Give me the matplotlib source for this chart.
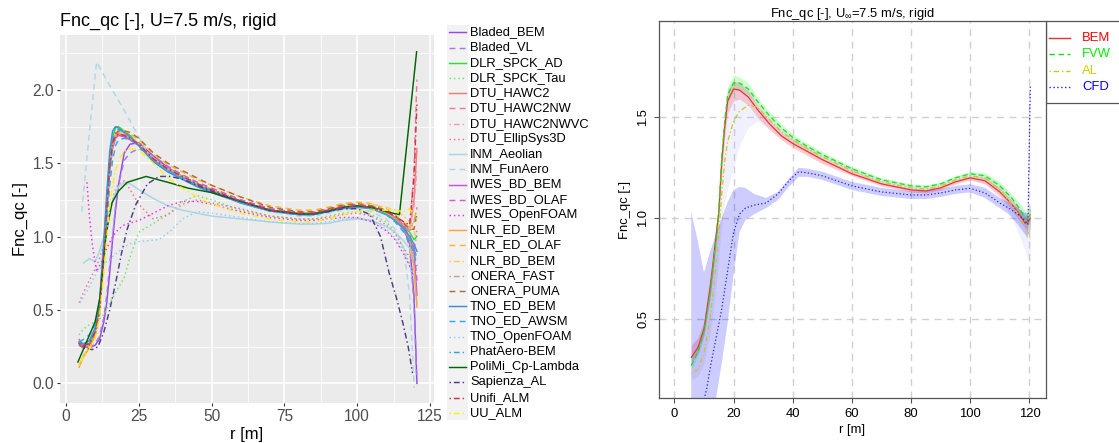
import numpy as np
import matplotlib

matplotlib.use("Agg")
import matplotlib.pyplot as plt
from matplotlib.patches import Rectangle

plt.rcParams["font.family"] = ["Liberation Sans", "DejaVu Sans"]
plt.rcParams["mathtext.fontset"] = "custom"
plt.rcParams["mathtext.rm"] = "Liberation Sans"

NAN = np.nan

# ---------------- left panel: all codes, Fnc_qc vs r ----------------
R_LEFT = [4.5, 6, 8, 10, 11.5, 13, 14, 15, 16, 17,
          18, 20, 22, 25, 30, 35, 40, 45, 50, 60,
          70, 80, 85, 90, 95, 100, 105, 110, 113, 116,
          118, 119.5, 120.5]

BLADED_BEM = [0.27, 0.25, 0.24, 0.26, 0.30, 0.42, 0.55, 0.75, 0.98, 1.18,
              1.35, 1.57, 1.63, 1.64, 1.55, 1.47, 1.41, 1.36, 1.32, 1.24,
              1.18, 1.15, 1.155, 1.175, 1.20, 1.21, 1.19, 1.16, 1.12, 1.05,
              0.95, 0.60, 0.0]
BLADED_VL = [0.26, 0.25, 0.24, 0.27, 0.32, 0.45, 0.60, 0.80, 1.00, 1.20,
             1.35, 1.52, 1.57, 1.60, 1.55, 1.48, 1.42, 1.37, 1.33, 1.25,
             1.19, 1.16, 1.16, 1.18, 1.21, 1.22, 1.20, 1.17, 1.12, 1.05,
             0.93, 0.55, 0.02]
DLR_SPCK_AD = [0.28, 0.26, 0.27, 0.37, 0.55, 0.95, 1.25, 1.52, 1.68, 1.74,
               1.75, 1.72, 1.69, 1.63, 1.52, 1.45, 1.40, 1.35, 1.31, 1.23,
               1.175, 1.15, 1.15, 1.17, 1.20, 1.21, 1.20, 1.16, 1.12, 1.07,
               1.03, 0.98, 1.00]
DLR_SPCK_TAU = [0.33, 0.37, 0.40, 0.42, 0.44, 0.47, 0.50, 0.55, 0.58, 0.62,
                0.65, 0.72, 0.86, 1.03, 1.09, 1.15, 1.24, 1.28, 1.25, 1.18,
                1.14, 1.12, 1.12, 1.14, 1.16, 1.17, 1.15, 1.10, 1.03, 0.92,
                0.80, 0.72, 0.72]
DTU_HAWC2 = [0.30, 0.26, 0.26, 0.34, 0.50, 0.90, 1.22, 1.50, 1.65, 1.70,
             1.71, 1.70, 1.68, 1.63, 1.53, 1.46, 1.41, 1.36, 1.32, 1.24,
             1.18, 1.155, 1.155, 1.175, 1.20, 1.21, 1.20, 1.17, 1.13, 1.08,
             1.04, 1.25, 1.60]
DTU_HAWC2NW = [0.29, 0.25, 0.26, 0.34, 0.49, 0.88, 1.20, 1.48, 1.64, 1.69,
               1.70, 1.69, 1.67, 1.63, 1.53, 1.46, 1.41, 1.36, 1.32, 1.24,
               1.185, 1.16, 1.16, 1.18, 1.205, 1.215, 1.205, 1.175, 1.14, 1.09,
               1.06, 1.45, 2.07]
DTU_HAWC2NWVC = [0.28, 0.25, 0.25, 0.33, 0.48, 0.87, 1.18, 1.46, 1.62, 1.68,
                 1.69, 1.69, 1.67, 1.63, 1.53, 1.46, 1.41, 1.36, 1.32, 1.24,
                 1.18, 1.16, 1.16, 1.18, 1.20, 1.21, 1.20, 1.17, 1.13, 1.08,
                 1.05, 1.20, 1.45]
DTU_ELLIPSYS3D = [0.55, 0.62, 0.70, 0.78, 0.85, 0.95, 1.05, 1.15, 1.25, 1.32,
                  1.36, 1.38, 1.32, 1.22, 1.12, 1.15, 1.22, 1.25, 1.23, 1.19,
                  1.14, 1.12, 1.12, 1.13, 1.15, 1.16, 1.14, 1.08, 1.02, 0.92,
                  0.86, 0.90, 1.05]
INM_AEOLIAN = [NAN, 0.82, 0.85, 0.83, 0.90, 1.00, 1.08, 1.16, 1.24, 1.30,
               1.34, 1.37, 1.36, 1.32, 1.26, 1.21, 1.18, 1.16, 1.14, 1.12,
               1.10, 1.085, 1.085, 1.09, 1.11, 1.12, 1.11, 1.07, 1.03, 0.97,
               0.92, 0.80, 0.55]
IWES_BD_BEM = [0.27, 0.25, 0.25, 0.33, 0.47, 0.85, 1.15, 1.44, 1.60, 1.67,
               1.69, 1.68, 1.66, 1.62, 1.52, 1.46, 1.41, 1.36, 1.32, 1.24,
               1.18, 1.155, 1.155, 1.175, 1.20, 1.21, 1.20, 1.16, 1.12, 1.06,
               1.00, 0.90, 0.60]
IWES_BD_OLAF = [0.26, 0.24, 0.25, 0.33, 0.47, 0.86, 1.16, 1.45, 1.61, 1.68,
                1.70, 1.69, 1.67, 1.63, 1.53, 1.47, 1.42, 1.37, 1.33, 1.25,
                1.19, 1.165, 1.165, 1.185, 1.21, 1.22, 1.21, 1.17, 1.13, 1.07,
                1.01, 0.93, 0.70]
NLR_ED_BEM = [0.11, 0.18, 0.24, 0.33, 0.48, 0.88, 1.18, 1.47, 1.63, 1.69,
              1.71, 1.70, 1.68, 1.63, 1.53, 1.46, 1.41, 1.36, 1.32, 1.24,
              1.18, 1.155, 1.155, 1.175, 1.20, 1.21, 1.20, 1.16, 1.12, 1.05,
              0.98, 0.80, 0.52]
NLR_ED_OLAF = [0.12, 0.19, 0.25, 0.34, 0.49, 0.88, 1.19, 1.48, 1.64, 1.70,
               1.72, 1.72, 1.70, 1.66, 1.56, 1.49, 1.44, 1.39, 1.35, 1.27,
               1.21, 1.18, 1.18, 1.20, 1.225, 1.235, 1.225, 1.19, 1.15, 1.10,
               1.06, 1.10, 1.20]
NLR_BD_BEM = [0.12, 0.19, 0.25, 0.34, 0.48, 0.87, 1.17, 1.46, 1.62, 1.69,
              1.71, 1.70, 1.68, 1.63, 1.53, 1.46, 1.41, 1.36, 1.32, 1.24,
              1.18, 1.16, 1.16, 1.18, 1.21, 1.22, 1.22, 1.20, 1.18, 1.14,
              1.10, 1.05, 0.95]
ONERA_FAST = [0.27, 0.25, 0.26, 0.34, 0.48, 0.86, 1.17, 1.46, 1.62, 1.68,
              1.70, 1.69, 1.67, 1.63, 1.53, 1.46, 1.41, 1.36, 1.32, 1.24,
              1.18, 1.16, 1.16, 1.18, 1.20, 1.21, 1.20, 1.17, 1.13, 1.08,
              1.04, 1.10, 1.20]
ONERA_PUMA = [0.26, 0.25, 0.26, 0.35, 0.50, 0.90, 1.21, 1.49, 1.65, 1.70,
              1.72, 1.72, 1.71, 1.67, 1.57, 1.50, 1.45, 1.40, 1.35, 1.27,
              1.20, 1.17, 1.17, 1.19, 1.215, 1.225, 1.21, 1.18, 1.14, 1.09,
              1.05, 1.05, 1.15]
TNO_ED_BEM = [0.28, 0.27, 0.29, 0.38, 0.55, 0.98, 1.30, 1.58, 1.72, 1.75,
              1.74, 1.71, 1.68, 1.62, 1.51, 1.44, 1.39, 1.34, 1.30, 1.23,
              1.175, 1.15, 1.15, 1.17, 1.19, 1.20, 1.19, 1.15, 1.11, 1.05,
              1.00, 0.95, 0.90]
TNO_ED_AWSM = [0.28, 0.30, 0.33, 0.40, 0.55, 0.85, 1.10, 1.35, 1.52, 1.62,
               1.66, 1.67, 1.66, 1.62, 1.52, 1.45, 1.40, 1.35, 1.31, 1.23,
               1.175, 1.15, 1.15, 1.17, 1.195, 1.205, 1.19, 1.15, 1.10, 1.03,
               0.97, 0.88, 0.80]
PHATAERO_BEM = [0.29, 0.27, 0.28, 0.36, 0.52, 0.93, 1.24, 1.52, 1.67, 1.72,
                1.73, 1.71, 1.68, 1.62, 1.52, 1.45, 1.40, 1.35, 1.31, 1.23,
                1.175, 1.15, 1.15, 1.17, 1.195, 1.205, 1.19, 1.15, 1.11, 1.05,
                1.00, 0.92, 0.85]
UNIFI_ALM = [0.27, 0.26, 0.27, 0.35, 0.49, 0.88, 1.19, 1.47, 1.63, 1.69,
             1.70, 1.69, 1.67, 1.63, 1.53, 1.46, 1.41, 1.36, 1.32, 1.24,
             1.18, 1.16, 1.16, 1.18, 1.20, 1.21, 1.20, 1.17, 1.14, 1.10,
             1.08, 1.40, 1.90]
UU_ALM = [0.12, 0.18, 0.23, 0.30, 0.45, 0.75, 1.00, 1.20, 1.35, 1.45,
          1.52, 1.58, 1.60, 1.59, 1.50, 1.40, 1.33, 1.27, 1.22, 1.16,
          1.12, 1.10, 1.10, 1.12, 1.15, 1.17, 1.18, 1.18, 1.18, 1.17,
          1.19, 1.15, 1.12]

# series with their own radial stations
INM_FUNAERO_R = [5.4, 8, 10.5, 15, 20, 22.5, 25.5, 28, 30, 35, 40, 45, 50,
                 60, 70, 80, 85, 90, 95, 100, 105, 110, 113, 116, 118, 119.6]
INM_FUNAERO = [1.17, 1.70, 2.19, 2.03, 1.86, 1.77, 1.66, 1.57, 1.52, 1.45, 1.40, 1.35, 1.31,
               1.23, 1.17, 1.14, 1.14, 1.16, 1.18, 1.19, 1.17, 1.12, 1.05, 0.92, 0.60, -0.03]
IWES_OPENFOAM_R = [7.2, 8, 9, 10.5, 12, 14, 16, 18, 20, 25, 30, 35, 40, 45,
                   50, 60, 70, 80, 85, 90, 95, 100, 105, 110, 113, 116, 118, 119.5]
IWES_OPENFOAM = [1.37, 1.15, 0.95, 0.76, 0.82, 0.92, 1.00, 1.05, 1.08, 1.11, 1.16, 1.21, 1.24, 1.24,
                 1.22, 1.17, 1.13, 1.11, 1.11, 1.12, 1.13, 1.13, 1.10, 1.04, 0.98, 0.88, 0.80, 0.75]
TNO_OPENFOAM_R = [4.8, 7, 9, 11, 14, 17, 20, 23, 27, 32, 36, 40, 45, 50,
                  60, 70, 80, 85, 90, 95, 100, 105, 110, 113, 116, 118, 119.5]
TNO_OPENFOAM = [0.55, 0.62, 0.70, 0.77, 0.83, 0.88, 0.93, 0.96, 0.97, 0.98, 1.04, 1.12, 1.17, 1.16,
                1.13, 1.10, 1.09, 1.09, 1.10, 1.12, 1.13, 1.11, 1.05, 0.99, 0.90, 0.82, 0.70]
POLIMI_R = [4.1, 7, 10, 11.7, 13.4, 14.5, 15.8, 18, 21, 27.5, 35, 42,
            50, 60, 70, 80, 85, 90, 95, 100, 105, 110, 114.5, 120.4]
POLIMI = [0.145, 0.28, 0.42, 0.59, 0.95, 1.10, 1.23, 1.31, 1.37, 1.41, 1.37, 1.33,
          1.30, 1.24, 1.18, 1.155, 1.155, 1.175, 1.20, 1.21, 1.20, 1.17, 1.15, 2.26]
SAPIENZA_R = [6, 9, 11, 13, 15, 17, 19, 21, 24, 28, 32, 36, 40, 45, 50,
              60, 70, 80, 85, 90, 95, 100, 104.4, 108, 111, 113.5, 115.7, 117.5, 119]
SAPIENZA_AL = [0.24, 0.23, 0.25, 0.35, 0.50, 0.68, 0.88, 1.05, 1.22, 1.36, 1.41, 1.41, 1.39, 1.35, 1.31,
               1.24, 1.18, 1.155, 1.155, 1.17, 1.19, 1.19, 1.15, 1.00, 0.75, 0.58, 0.41, 0.25, 0.07]

LEFT_NAMES = ["Bladed_BEM", "Bladed_VL", "DLR_SPCK_AD", "DLR_SPCK_Tau", "DTU_HAWC2",
              "DTU_HAWC2NW", "DTU_HAWC2NWVC", "DTU_EllipSys3D", "INM_Aeolian", "INM_FunAero",
              "IWES_BD_BEM", "IWES_BD_OLAF", "IWES_OpenFOAM", "NLR_ED_BEM", "NLR_ED_OLAF",
              "NLR_BD_BEM", "ONERA_FAST", "ONERA_PUMA", "TNO_ED_BEM", "TNO_ED_AWSM",
              "TNO_OpenFOAM", "PhatAero-BEM", "PoliMi_Cp-Lambda", "Sapienza_AL", "Unifi_ALM",
              "UU_ALM"]
LEFT_DATA = [
    (R_LEFT, BLADED_BEM), (R_LEFT, BLADED_VL), (R_LEFT, DLR_SPCK_AD), (R_LEFT, DLR_SPCK_TAU),
    (R_LEFT, DTU_HAWC2), (R_LEFT, DTU_HAWC2NW), (R_LEFT, DTU_HAWC2NWVC), (R_LEFT, DTU_ELLIPSYS3D),
    (R_LEFT, INM_AEOLIAN), (INM_FUNAERO_R, INM_FUNAERO), (R_LEFT, IWES_BD_BEM),
    (R_LEFT, IWES_BD_OLAF), (IWES_OPENFOAM_R, IWES_OPENFOAM), (R_LEFT, NLR_ED_BEM),
    (R_LEFT, NLR_ED_OLAF), (R_LEFT, NLR_BD_BEM), (R_LEFT, ONERA_FAST), (R_LEFT, ONERA_PUMA),
    (R_LEFT, TNO_ED_BEM), (R_LEFT, TNO_ED_AWSM), (TNO_OPENFOAM_R, TNO_OPENFOAM),
    (R_LEFT, PHATAERO_BEM), (POLIMI_R, POLIMI), (SAPIENZA_R, SAPIENZA_AL), (R_LEFT, UNIFI_ALM),
    (R_LEFT, UU_ALM),
]

SOLID, DASHED, DOTTED, DOTDASH = "-", (0, (4, 3)), (0, (1, 2)), (0, (1, 2, 4, 2))
LEFT_COLORS = ["#9B45E8", "#A27BE0", "#2CE02C", "#66E866", "#F07A7A",
               "#EE7A92", "#F0A4AC", "#F27095", "#A9D5E4", "#AED8E8",
               "#CC4FD8", "#D35AD8", "#EE2AEE", "#F8A53A", "#FFB52E",
               "#FFC868", "#BFA58C", "#B26A3A", "#3A8EE0", "#2FA9F0",
               "#8FCCF4", "#3FA3D0", "#006400", "#483D8B", "#CC3347",
               "#FFEE11"]
LEFT_STYLES = [SOLID, DASHED, SOLID, DOTTED, SOLID,
               DASHED, DOTDASH, DOTTED, SOLID, DASHED,
               SOLID, DASHED, DOTTED, SOLID, DASHED,
               DOTDASH, DOTDASH, DASHED, SOLID, DASHED,
               DOTTED, DOTDASH, SOLID, DOTDASH, DOTDASH,
               DOTDASH]

# ---------------- right panel: grouped mean and spread ----------------
R_RIGHT = [5.7, 8, 10, 12, 13, 14, 15, 16, 17, 18,
           20, 22, 25, 28, 32, 36, 40, 45, 50, 60,
           70, 80, 85, 90, 95, 100, 105, 110, 114, 117,
           118.5, 119.5, 120.3]
BEM_MEAN = [0.31, 0.36, 0.45, 0.65, 0.77, 0.90, 1.03, 1.28, 1.45, 1.58,
            1.64, 1.635, 1.60, 1.54, 1.47, 1.41, 1.37, 1.33, 1.29, 1.22,
            1.17, 1.14, 1.135, 1.15, 1.18, 1.20, 1.185, 1.13, 1.07, 1.01,
            0.975, 0.98, 1.0]
BEM_LO = [0.29, 0.33, 0.42, 0.60, 0.72, 0.86, 1.00, 1.22, 1.40, 1.52,
          1.58, 1.59, 1.56, 1.50, 1.44, 1.39, 1.35, 1.31, 1.27, 1.21,
          1.16, 1.13, 1.125, 1.14, 1.17, 1.19, 1.17, 1.11, 1.04, 0.98,
          0.95, 0.94, 0.95]
BEM_HI = [0.37, 0.41, 0.49, 0.69, 0.81, 0.95, 1.08, 1.34, 1.52, 1.64,
          1.68, 1.67, 1.63, 1.56, 1.49, 1.43, 1.39, 1.345, 1.30, 1.235,
          1.18, 1.15, 1.145, 1.16, 1.19, 1.21, 1.20, 1.15, 1.09, 1.04,
          1.01, 1.03, 1.05]
FVW_MEAN = [0.27, 0.34, 0.44, 0.62, 0.75, 0.89, 1.03, 1.30, 1.48, 1.61,
            1.67, 1.67, 1.64, 1.58, 1.51, 1.45, 1.40, 1.355, 1.315, 1.245,
            1.19, 1.16, 1.155, 1.17, 1.20, 1.22, 1.21, 1.16, 1.10, 1.04,
            1.00, 0.99, 1.02]
FVW_LO = [0.25, 0.32, 0.42, 0.59, 0.72, 0.86, 1.00, 1.26, 1.44, 1.57,
          1.63, 1.64, 1.61, 1.56, 1.49, 1.43, 1.385, 1.34, 1.30, 1.235,
          1.18, 1.15, 1.145, 1.16, 1.19, 1.21, 1.195, 1.14, 1.08, 1.01,
          0.97, 0.95, 0.96]
FVW_HI = [0.30, 0.37, 0.47, 0.65, 0.78, 0.92, 1.07, 1.34, 1.52, 1.65,
          1.71, 1.70, 1.67, 1.60, 1.53, 1.47, 1.415, 1.37, 1.33, 1.255,
          1.20, 1.17, 1.165, 1.18, 1.21, 1.23, 1.225, 1.18, 1.12, 1.07,
          1.04, 1.04, 1.07]
AL_MEAN = [0.23, 0.25, 0.33, 0.50, 0.62, 0.76, 0.92, 1.12, 1.28, 1.38,
           1.48, 1.53, 1.56, 1.55, 1.49, 1.43, 1.39, 1.345, 1.305, 1.235,
           1.18, 1.15, 1.145, 1.16, 1.19, 1.21, 1.20, 1.14, 1.07, 1.00,
           0.96, 0.93, 0.90]
AL_LO = [0.20, 0.22, 0.28, 0.42, 0.52, 0.65, 0.80, 0.97, 1.08, 1.15,
         1.25, 1.36, 1.45, 1.48, 1.45, 1.40, 1.37, 1.33, 1.29, 1.22,
         1.17, 1.14, 1.135, 1.15, 1.18, 1.19, 1.17, 1.10, 1.00, 0.90,
         0.84, 0.80, 0.78]
AL_HI = [0.30, 0.38, 0.47, 0.66, 0.78, 0.93, 1.08, 1.34, 1.52, 1.63,
         1.68, 1.67, 1.64, 1.58, 1.51, 1.45, 1.40, 1.36, 1.32, 1.25,
         1.20, 1.165, 1.16, 1.18, 1.21, 1.23, 1.22, 1.17, 1.11, 1.06,
         1.03, 1.02, 1.05]
CFD_R = [5.7, 8, 10, 11, 12, 14, 16, 18, 20, 22,
         24, 27, 31, 35, 39, 42, 45, 50, 60, 70,
         80, 85, 90, 95, 100, 105, 110, 113, 116, 118,
         119.5, 120.3]
CFD_MEAN = [-0.30, -0.05, 0.10, 0.16, 0.25, 0.40, 0.55, 0.74, 0.93, 1.02,
            1.05, 1.065, 1.075, 1.12, 1.19, 1.23, 1.225, 1.21, 1.16, 1.13,
            1.115, 1.115, 1.125, 1.14, 1.148, 1.125, 1.075, 1.05, 1.02, 0.995,
            0.97, 1.66]
CFD_LO = [-0.50, -0.30, -0.10, -0.05, 0.00, 0.10, 0.28, 0.48, 0.72, 0.93,
          0.99, 1.02, 1.05, 1.09, 1.16, 1.205, 1.205, 1.19, 1.14, 1.11,
          1.095, 1.095, 1.105, 1.12, 1.128, 1.10, 1.05, 1.02, 0.97, 0.93,
          0.90, 1.60]
CFD_HI = [1.03, 0.88, 0.73, 0.78, 0.83, 0.92, 1.00, 1.08, 1.14, 1.155,
          1.15, 1.12, 1.10, 1.13, 1.20, 1.25, 1.245, 1.23, 1.18, 1.15,
          1.135, 1.135, 1.145, 1.16, 1.168, 1.15, 1.10, 1.08, 1.05, 1.03,
          1.02, 1.70]

GROUP_NAMES = ["BEM", "FVW", "AL", "CFD"]
GROUP_DATA = [
    (R_RIGHT, BEM_MEAN, BEM_LO, BEM_HI),
    (R_RIGHT, FVW_MEAN, FVW_LO, FVW_HI),
    (R_RIGHT, AL_MEAN, AL_LO, AL_HI),
    (CFD_R, CFD_MEAN, CFD_LO, CFD_HI),
]
GROUP_LINE_COLORS = ["#F03030", "#18E018", "#C8C820", "#2020F8"]
GROUP_TEXT_COLORS = ["#FF0000", "#00EE00", "#CDCD00", "#0000FF"]
GROUP_BAND_COLORS = [("#FF0000", 0.2), ("#00FF00", 0.2), ("#B0B0FF", 0.18), ("#0000FF", 0.2)]
GROUP_STYLES = [SOLID, (0, (4, 2.5)), (0, (1, 2, 4, 2)), (0, (1, 1.8))]

W, H = 1119, 443


def fig_box(x0, y0, x1, y1):
    return [x0 / W, 1 - y1 / H, (x1 - x0) / W, (y1 - y0) / H]


fig = plt.figure(figsize=(W / 100, H / 100), dpi=100)

# ---- left: ggplot-like panel ----
ax = fig.add_axes(fig_box(60, 35, 434, 403))
ax.set_facecolor("#EBEBEB")
for (r, f), color, ls in zip(LEFT_DATA, LEFT_COLORS, LEFT_STYLES):
    ax.plot(r, f, color=color, linestyle=ls, linewidth=1.05)
ax.set_xlim(-2.06, 126.37)
ax.set_ylim(-0.134, 2.374)
ax.set_xticks([0, 25, 50, 75, 100, 125])
ax.set_yticks([0.0, 0.5, 1.0, 1.5, 2.0])
ax.set_yticklabels(["0.0", "0.5", "1.0", "1.5", "2.0"])
ax.set_xticks([12.5, 37.5, 62.5, 87.5, 112.5], minor=True)
ax.set_yticks([0.25, 0.75, 1.25, 1.75, 2.25], minor=True)
ax.grid(which="major", color="white", linewidth=1.1)
ax.grid(which="minor", color="white", linewidth=0.55)
ax.set_axisbelow(True)
for s in ax.spines.values():
    s.set_visible(False)
ax.tick_params(which="major", length=2.5, width=0.8, color="#333333",
               labelcolor="#4D4D4D", labelsize=11.2, pad=2)
ax.tick_params(which="minor", length=0)
fig.text(60 / W, 1 - 21 / H, "Fnc_qc [-], U=7.5 m/s, rigid", fontsize=13,
         ha="left", va="center", color="black")
fig.text(247 / W, 1 - 434 / H, "r [m]", fontsize=12, ha="center", va="center")
fig.text(20 / W, 1 - 219 / H, "Fnc_qc [-]", fontsize=12, ha="center", va="center",
         rotation=90)

# ---- left legend (keys drawn in pixel space) ----
lax = fig.add_axes([0, 0, 1, 1])
lax.set_xlim(0, W)
lax.set_ylim(H, 0)
lax.axis("off")
row_h = 15.22
for i, (name, color, ls) in enumerate(zip(LEFT_NAMES, LEFT_COLORS, LEFT_STYLES)):
    yc = 32.3 + i * row_h
    lax.add_patch(Rectangle((447, yc - row_h / 2), 21, row_h, facecolor="#F2F2F2",
                            edgecolor="none"))
    lax.plot([449, 466], [yc, yc], color=color, linestyle=ls, linewidth=1.05)
    lax.text(470, yc, name, fontsize=9.3, ha="left", va="center", color="black")

# ---- right: base-R-like panel ----
ax2 = fig.add_axes(fig_box(659, 21, 1046, 398))
ax2.set_xlim(-5.2, 125.6)
ax2.set_ylim(0.109, 1.977)
ax2.set_xticks([0, 20, 40, 60, 80, 100, 120])
ax2.set_yticks([0.5, 1.0, 1.5])
ax2.set_yticklabels(["0.5", "1.0", "1.5"], rotation=90, va="center")
ax2.grid(color="#D0D0D0", linestyle=(0, (5, 4)), linewidth=1.0)
ax2.set_axisbelow(True)
for (r, m, lo, hi), (bc, ba) in zip(GROUP_DATA, GROUP_BAND_COLORS):
    ax2.fill_between(r, lo, hi, color=bc, alpha=ba, linewidth=0)
for (r, m, lo, hi), color, ls in zip(GROUP_DATA, GROUP_LINE_COLORS, GROUP_STYLES):
    ax2.plot(r, m, color=color, linestyle=ls, linewidth=0.9)
for s in ax2.spines.values():
    s.set_color("#555555")
    s.set_linewidth(0.9)
ax2.tick_params(length=3.6, width=0.8, color="#555555", labelsize=9.4, pad=3.5)
fig.text(852 / W, 1 - 14 / H, r"Fnc_qc [-], U$_{\infty}$=7.5 m/s, rigid", fontsize=9.4,
         ha="center", va="center")
fig.text(852 / W, 1 - 430 / H, "r [m]", fontsize=9.4, ha="center", va="center")
fig.text(625 / W, 1 - 210 / H, "Fnc_qc [-]", fontsize=9.4, ha="center", va="center",
         rotation=90)

# ---- right legend box ----
lax.add_patch(Rectangle((1046, 21), 90, 82, facecolor="white", edgecolor="#555555",
                        linewidth=0.9))
for i, (name, color, tcolor, ls) in enumerate(zip(GROUP_NAMES, GROUP_LINE_COLORS,
                                                   GROUP_TEXT_COLORS, GROUP_STYLES)):
    yc = 38 + i * 16.4
    lax.plot([1049, 1070], [yc, yc], color=color, linestyle=ls, linewidth=1.0)
    lax.text(1082, yc, name, fontsize=9.4, ha="left", va="center", color=tcolor)

fig.savefig("out.png", dpi=100)
